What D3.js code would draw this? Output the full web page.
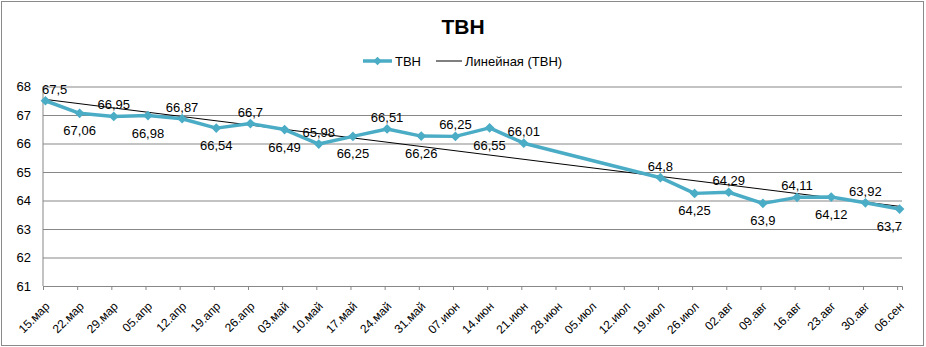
<!DOCTYPE html>
<html><head><meta charset="utf-8">
<script src="https://cdn.jsdelivr.net/npm/d3@7"></script>
<style>
html,body{margin:0;padding:0;background:#fff;}
svg{display:block;font-family:"Liberation Sans",Arial,sans-serif;}
</style></head>
<body><svg id="c" width="926" height="347"></svg>
<script>
const title = "ТВН";
const seriesName = "ТВН";
const trendName = "Линейная (ТВН)";
const dates = ["2010-03-15","2010-03-22","2010-03-29","2010-04-05","2010-04-12","2010-04-19","2010-04-26",
  "2010-05-03","2010-05-10","2010-05-17","2010-05-24","2010-05-31","2010-06-07","2010-06-14","2010-06-21",
  "2010-07-19","2010-07-26","2010-08-02","2010-08-09","2010-08-16","2010-08-23","2010-08-30","2010-09-06"];
const values = [67.5,67.06,66.95,66.98,66.87,66.54,66.7,66.49,65.98,66.25,66.51,66.26,66.25,66.55,66.01,
  64.8,64.25,64.29,63.9,64.11,64.12,63.92,63.7];
const valueLabels = ["67,5","67,06","66,95","66,98","66,87","66,54","66,7","66,49","65,98","66,25","66,51","66,26","66,25","66,55","66,01",
  "64,8","64,25","64,29","63,9","64,11","64,12","63,92","63,7"];
const tickDates = ["2010-03-15","2010-03-22","2010-03-29","2010-04-05","2010-04-12","2010-04-19","2010-04-26",
  "2010-05-03","2010-05-10","2010-05-17","2010-05-24","2010-05-31","2010-06-07","2010-06-14","2010-06-21","2010-06-28",
  "2010-07-05","2010-07-12","2010-07-19","2010-07-26","2010-08-02","2010-08-09","2010-08-16","2010-08-23","2010-08-30","2010-09-06"];
const tickLabels = ["15.мар","22.мар","29.мар","05.апр","12.апр","19.апр","26.апр","03.май","10.май","17.май","24.май","31.май",
  "07.июн","14.июн","21.июн","28.июн","05.июл","12.июл","19.июл","26.июл","02.авг","09.авг","16.авг","23.авг","30.авг","06.сен"];
const yTicks = [61,62,63,64,65,66,67,68];
const axisStart = "2010-03-15", axisEnd = "2010-09-07";

const parse = d3.utcParse("%Y-%m-%d");
const HALF_DAY = 12*3600*1000;
const data = dates.map((d,i)=>({date:parse(d), mid:new Date(+parse(d)+HALF_DAY), v:values[i], lab:valueLabels[i]}));

const svg = d3.select("#c");
const L=43, R=902, T=86.5, B=286;
const x = d3.scaleUtc().domain([parse(axisStart), parse(axisEnd)]).range([L,R]);
const y = d3.scaleLinear().domain([61,68]).range([B,T]);
const color = "#4BACC6", grid = "#878787";

// outer border
svg.append("rect").attr("x",1.5).attr("y",1.5).attr("width",922).attr("height",344)
  .attr("fill","#fff").attr("stroke","#8a8a8a").attr("stroke-width",1);

// title
svg.append("text").attr("x",463).attr("y",34).attr("text-anchor","middle")
  .attr("font-size",21).attr("font-weight","bold").text(title);

// legend
const lg = svg.append("g");
lg.append("line").attr("x1",363).attr("x2",392).attr("y1",61).attr("y2",61).attr("stroke",color).attr("stroke-width",3.5);
lg.append("path").attr("d",d3.symbol(d3.symbolDiamond2,45)()).attr("transform","translate(377.5,61)").attr("fill",color);
lg.append("text").attr("x",395).attr("y",65.5).attr("font-size",13).text(seriesName);
lg.append("line").attr("x1",436).attr("x2",462).attr("y1",61).attr("y2",61).attr("stroke","#000").attr("stroke-width",1);
lg.append("text").attr("x",465).attr("y",65.5).attr("font-size",13).text(trendName);

// gridlines
const yAxis = d3.axisLeft(y).tickValues(yTicks).tickSize(-(R-L)).tickFormat(d=>d).tickPadding(12);
const gy = svg.append("g").attr("transform",`translate(${L},0)`).call(yAxis);
gy.select(".domain").remove();
gy.selectAll(".tick line").attr("stroke",grid).attr("stroke-width",1);
gy.selectAll(".tick text").attr("font-size",13).attr("fill","#000").attr("font-family","Liberation Sans, Arial");
// left axis line
svg.append("line").attr("x1",L).attr("x2",L).attr("y1",T).attr("y2",B).attr("stroke",grid);

// x axis
const xAxis = d3.axisBottom(x).tickValues(tickDates.map(parse)).tickSize(4)
  .tickFormat((d,i)=>tickLabels[i]);
const gx = svg.append("g").attr("transform",`translate(0,${B})`).call(xAxis);
gx.select(".domain").attr("stroke",grid);
gx.selectAll(".tick line").attr("stroke",grid);
gx.selectAll(".tick text").attr("font-size",12).attr("fill","#000").attr("font-family","Liberation Sans, Arial")
  .attr("text-anchor","end").attr("y",0).attr("dy",0)
  .attr("transform","translate(7,21) rotate(-45)");

// trend line (least squares on dates)
const xs = data.map(d=>+d.mid), ys = data.map(d=>d.v);
const mx = d3.mean(xs), my = d3.mean(ys);
const slope = d3.sum(xs.map((xv,i)=>(xv-mx)*(ys[i]-my))) / d3.sum(xs.map(xv=>(xv-mx)*(xv-mx)));
const icp = my - slope*mx;
const x0 = xs[0], x1 = xs[xs.length-1];
svg.append("line").attr("x1",x(new Date(x0))).attr("y1",y(icp+slope*x0))
  .attr("x2",x(new Date(x1))).attr("y2",y(icp+slope*x1)).attr("stroke","#000").attr("stroke-width",1);

// series line
svg.append("path").datum(data).attr("fill","none").attr("stroke",color).attr("stroke-width",3.5)
  .attr("stroke-linejoin","round")
  .attr("d",d3.line().x(d=>x(d.mid)).y(d=>y(d.v)));
svg.selectAll(".mk").data(data).join("path").attr("class","mk")
  .attr("d",d3.symbol(d3.symbolDiamond2,60)()).attr("fill",color)
  .attr("transform",d=>`translate(${x(d.mid)},${y(d.v)})`);

// data labels: alternate above/below by week index
const WEEK = 7*24*3600*1000;
const labG = svg.append("g").attr("font-size",13);
data.forEach(d=>{
  const wk = Math.round((+d.date - +data[0].date)/WEEK);
  const above = wk%2===0;
  const px = x(d.mid), py = y(d.v);
  const t = labG.append("text").attr("text-anchor","middle").attr("x",px)
    .attr("y", above ? py-7 : py+22).text(d.lab);
  const bb = t.node().getBBox();
  if (bb.x < L-1) t.attr("x", px + (L-1-bb.x));
  if (bb.x+bb.width > R) t.attr("x", px - (bb.x+bb.width-R));
});
</script></body></html>
